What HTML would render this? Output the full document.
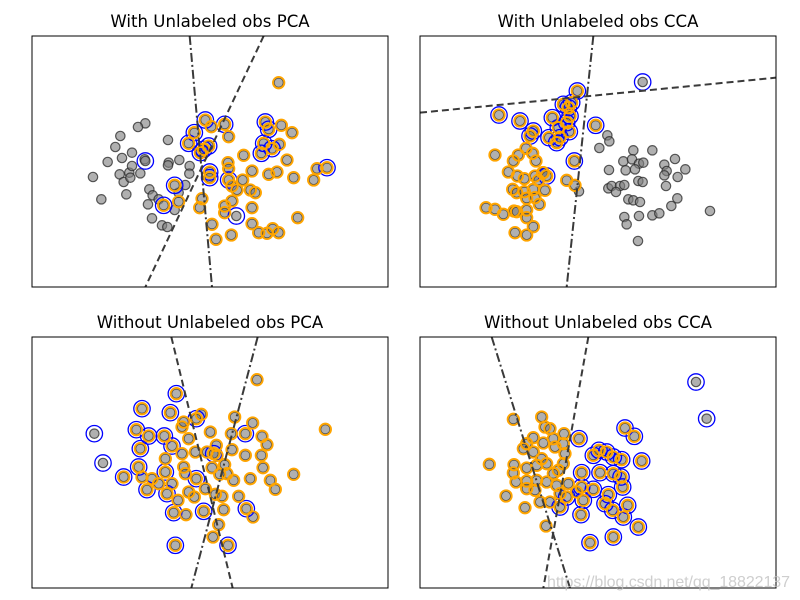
<!DOCTYPE html>
<html><head><meta charset="utf-8"><style>
body{margin:0;background:#fff;}
svg{display:block;font-family:"DejaVu Sans","Liberation Sans",sans-serif;}
</style></head><body>
<svg id="chart" width="800" height="600" viewBox="0 0 800 600"></svg>
<script>
// Data in axis units (domain x 0..1068, y 0..753, y downward)
const p1Title="With Unlabeled obs PCA";
const p1Gray=[[340,262],[318,273],[265,300],[250,333],[300,350],[270,366],[227,378],[183,423],[208,490],[283,475],[263,415],[275,438],[292,410],[300,390],[295,425],[325,412],[408,312],[410,380],[408,388],[442,372],[473,390],[472,413],[460,447],[352,460],[362,478],[380,490],[348,505],[360,547],[390,568],[406,573],[428,522],[440,470],[338,370]];
const p1Orange=[[740,140],[748,268],[780,290],[590,302],[635,358],[742,325],[765,372],[588,380],[590,398],[660,405],[710,415],[735,408],[785,425],[845,432],[855,398],[632,432],[600,450],[615,462],[655,462],[670,470],[510,488],[503,515],[578,510],[600,495],[578,530],[660,515],[440,497],[540,565],[552,610],[598,597],[660,563],[680,590],[705,592],[722,578],[740,590],[797,545],[538,272]];
const p1Both=[[520,252],[578,265],[487,290],[470,322],[530,330],[505,350],[515,340],[700,258],[710,280],[695,322],[688,352],[720,338],[533,408],[533,425],[590,432],[428,448],[395,508],[885,395]];
const p1Blue=[[340,375],[613,540]];
const p1Lines=[[473,0,540,753,"dashdot"],[695,0,340,753,"dash"]];

const p2Title="With Unlabeled obs CCA";
const p2Gray=[[562,298],[568,316],[538,336],[640,343],[697,343],[610,376],[636,370],[657,383],[670,380],[617,403],[645,400],[567,402],[733,386],[740,405],[733,418],[765,369],[796,400],[773,423],[655,435],[668,438],[565,457],[575,450],[600,450],[613,447],[588,468],[738,450],[477,466],[625,490],[640,493],[660,498],[772,487],[754,510],[870,525],[697,538],[718,532],[657,540],[613,543],[620,565],[654,615]];
const p2Orange=[[225,357],[295,357],[280,375],[318,337],[338,352],[348,375],[265,408],[292,420],[313,428],[345,420],[370,410],[440,433],[465,448],[375,463],[278,460],[290,470],[313,467],[340,460],[320,487],[345,485],[358,505],[198,515],[225,520],[250,535],[282,525],[290,527],[320,522],[320,545],[340,572],[285,590],[320,597],[368,410],[355,433]];
const p2Both=[[472,165],[237,237],[300,255],[340,285],[330,300],[397,245],[527,268],[463,375],[380,420],[455,200],[430,205],[445,215],[450,240],[440,260],[415,275],[448,287],[387,305],[410,320],[420,305]];
const p2Blue=[[668,138]];
const p2Lines=[[0,230,1068,125,"dash"],[520,0,440,753,"dashdot"]];

const p3Title="Without Unlabeled obs PCA";
const p3Gray=[];
const p3Orange=[[675,128],[880,277],[608,240],[662,258],[690,298],[705,323],[598,290],[640,355],[688,355],[693,392],[600,338],[535,285],[470,305],[450,270],[450,350],[400,365],[490,345],[525,345],[555,355],[553,325],[578,383],[585,410],[605,430],[655,425],[715,430],[730,457],[785,412],[620,478],[575,518],[462,533],[438,490],[487,480],[470,465],[540,392],[563,412],[455,390],[460,410],[420,440],[380,440],[330,420],[360,425],[520,455],[550,472],[570,478],[560,563],[543,600],[663,540],[508,232],[455,255]];
const p3Both=[[433,170],[330,215],[415,227],[313,278],[350,297],[397,297],[420,327],[325,335],[320,390],[275,420],[345,458],[405,470],[400,405],[425,527],[515,523],[643,515],[430,625],[588,625],[493,425],[640,290],[493,245],[545,350]];
const p3Blue=[[187,290],[213,378]];
const p3Lines=[[418,0,602,753,"dash"],[677,0,478,753,"dashdot"]];

const p4Title="Without Unlabeled obs CCA";
const p4Gray=[];
const p4Orange=[[280,247],[365,240],[375,270],[390,275],[432,290],[400,305],[340,302],[320,320],[370,318],[310,335],[340,345],[430,320],[405,330],[435,350],[365,365],[350,385],[380,380],[208,382],[282,383],[280,408],[320,393],[430,380],[415,400],[288,435],[320,432],[350,430],[380,435],[410,445],[445,440],[320,455],[345,460],[258,477],[360,495],[390,495],[315,512],[378,567],[470,465],[400,410],[420,470]];
const p4Both=[[615,273],[643,298],[477,305],[520,355],[537,340],[560,345],[580,360],[605,368],[665,372],[485,407],[540,407],[580,410],[603,420],[608,450],[520,457],[485,450],[490,490],[565,473],[555,500],[578,520],[623,505],[610,540],[655,570],[483,533],[580,600],[510,617],[440,480],[420,510]];
const p4Blue=[[828,135],[860,245]];
const p4Lines=[[215,0,450,753,"dashdot"],[505,0,370,753,"dash"]];

const NS="http://www.w3.org/2000/svg";
const svg=document.getElementById('chart');
function mk(tag,attrs,parent){const e=document.createElementNS(NS,tag);for(const k in attrs)e.setAttribute(k,attrs[k]);parent.appendChild(e);return e;}
const panels=[
 {x:32,y:36,title:p1Title,gray:p1Gray,orange:p1Orange,both:p1Both,blue:p1Blue,lines:p1Lines,key:"with-unlabeled-pca"},
 {x:420,y:36,title:p2Title,gray:p2Gray,orange:p2Orange,both:p2Both,blue:p2Blue,lines:p2Lines,key:"with-unlabeled-cca"},
 {x:32,y:337,title:p3Title,gray:p3Gray,orange:p3Orange,both:p3Both,blue:p3Blue,lines:p3Lines,key:"without-unlabeled-pca"},
 {x:420,y:337,title:p4Title,gray:p4Gray,orange:p4Orange,both:p4Both,blue:p4Blue,lines:p4Lines,key:"without-unlabeled-cca"}
];
const W=356,H=251;
panels.forEach((p,i)=>{
  const g=mk('g',{},svg);
  
  
  const sx=v=>p.x+v*W/1068, sy=v=>p.y+v*H/753;
  const cid='clip'+i;
  const cp=mk('clipPath',{id:cid},g);mk('rect',{x:p.x,y:p.y,width:W,height:H},cp);
  const t=mk('text',{x:p.x+W/2,y:p.y-9,'text-anchor':'middle','font-size':'16.6',fill:'#000'},g);
  t.textContent=p.title;
  
  
  const plot=mk('g',{'clip-path':'url(#'+cid+')'},g);
  const all=p.gray.concat(p.orange,p.both,p.blue);
  all.forEach(d=>{
    const c=mk('circle',{cx:sx(d[0]),cy:sy(d[1]),r:4.7,fill:'rgba(128,128,128,0.62)',stroke:'rgba(40,40,40,0.75)','stroke-width':1.2},plot);
    
    
  });
  p.both.concat(p.blue).forEach(d=>{
    const c=mk('circle',{cx:sx(d[0]),cy:sy(d[1]),r:8.2,fill:'none',stroke:'#0000ff','stroke-width':1.3},plot);
    
    
  });
  p.orange.concat(p.both).forEach(d=>{
    const c=mk('circle',{cx:sx(d[0]),cy:sy(d[1]),r:5.7,fill:'none',stroke:'#ffa500','stroke-width':1.9},plot);
    
    
  });
  p.lines.forEach(l=>{
    const ln=mk('line',{x1:sx(l[0]),y1:sy(l[1]),x2:sx(l[2]),y2:sy(l[3]),stroke:'#3a3a3a','stroke-width':2,'stroke-dasharray':l[4]==='dash'?'7,4':'9,3,2,3'},plot);
    
    
  });
  const fr=mk('rect',{x:p.x,y:p.y,width:W,height:H,fill:'none',stroke:'#000','stroke-width':1},g);
  
  
});
const wm=mk('text',{x:547,y:587,'font-size':'16','textLength':'243',fill:'rgba(190,190,190,0.75)','font-family':'Liberation Sans, sans-serif'},svg);
wm.textContent="https://blog.csdn.net/qq_18822137";


</script>
</body></html>
